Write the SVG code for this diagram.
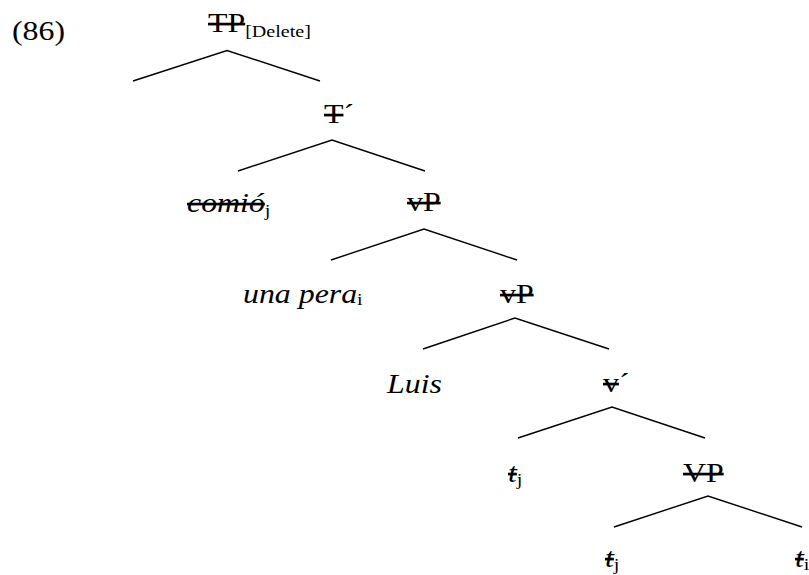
<svg xmlns="http://www.w3.org/2000/svg" width="809" height="575" viewBox="0 0 809 575">
<style>
text{font-family:"Liberation Serif","Times New Roman",serif;font-size:27px;fill:#000}
.it{font-style:italic}
.s{text-decoration:line-through}
.sub{font-size:17px;font-style:normal;text-decoration:none}
.edge{fill:none;stroke:#000;stroke-width:1.4}
</style>
<rect width="809" height="575" fill="#fff"/>
<g id="connectors">
<path class="edge" d="M133,81 L227,50.5 L320,81"/>
<path class="edge" d="M238,171 L332,140 L425,171"/>
<path class="edge" d="M331,260 L424,229 L517,260"/>
<path class="edge" d="M423,349 L515,318 L609,349"/>
<path class="edge" d="M518,438 L612,407 L705,438"/>
<path class="edge" d="M614,527 L708,496 L802,527"/>
</g>
<g id="label86"><text transform="translate(12,40) scale(1.18,1)">(86)</text></g>
<g id="TP"><text transform="translate(208,32) scale(1.18,1)"><tspan class="s">TP</tspan><tspan class="sub" dy="5">[Delete]</tspan></text></g>
<g id="Tbar"><text transform="translate(324,123) scale(1.18,1)"><tspan class="s">T</tspan>´</text></g>
<g id="comio"><text transform="translate(187,212) scale(1.18,1)"><tspan class="it s">comió</tspan><tspan class="sub" dy="4">j</tspan></text></g>
<g id="vP1"><text transform="translate(407,211) scale(1.18,1)" class="s">vP</text></g>
<g id="unapera"><text transform="translate(243,303) scale(1.18,1)"><tspan class="it">una pera</tspan><tspan class="sub" dy="2">i</tspan></text></g>
<g id="vP2"><text transform="translate(500,303) scale(1.18,1)" class="s">vP</text></g>
<g id="Luis"><text transform="translate(387,393) scale(1.18,1)" class="it">Luis</text></g>
<g id="vbar"><text transform="translate(603,392) scale(1.18,1)"><tspan class="s">v</tspan>´</text></g>
<g id="tj1"><text transform="translate(508,482) scale(1.18,1)"><tspan class="it s">t</tspan><tspan class="sub" dy="3">j</tspan></text></g>
<g id="VP"><text transform="translate(683,482) scale(1.18,1)" class="s">VP</text></g>
<g id="tj2"><text transform="translate(605,567) scale(1.18,1)"><tspan class="it s">t</tspan><tspan class="sub" dy="3">j</tspan></text></g>
<g id="ti"><text transform="translate(795,567) scale(1.18,1)"><tspan class="it s">t</tspan><tspan class="sub" dy="3">i</tspan></text></g>
</svg>
